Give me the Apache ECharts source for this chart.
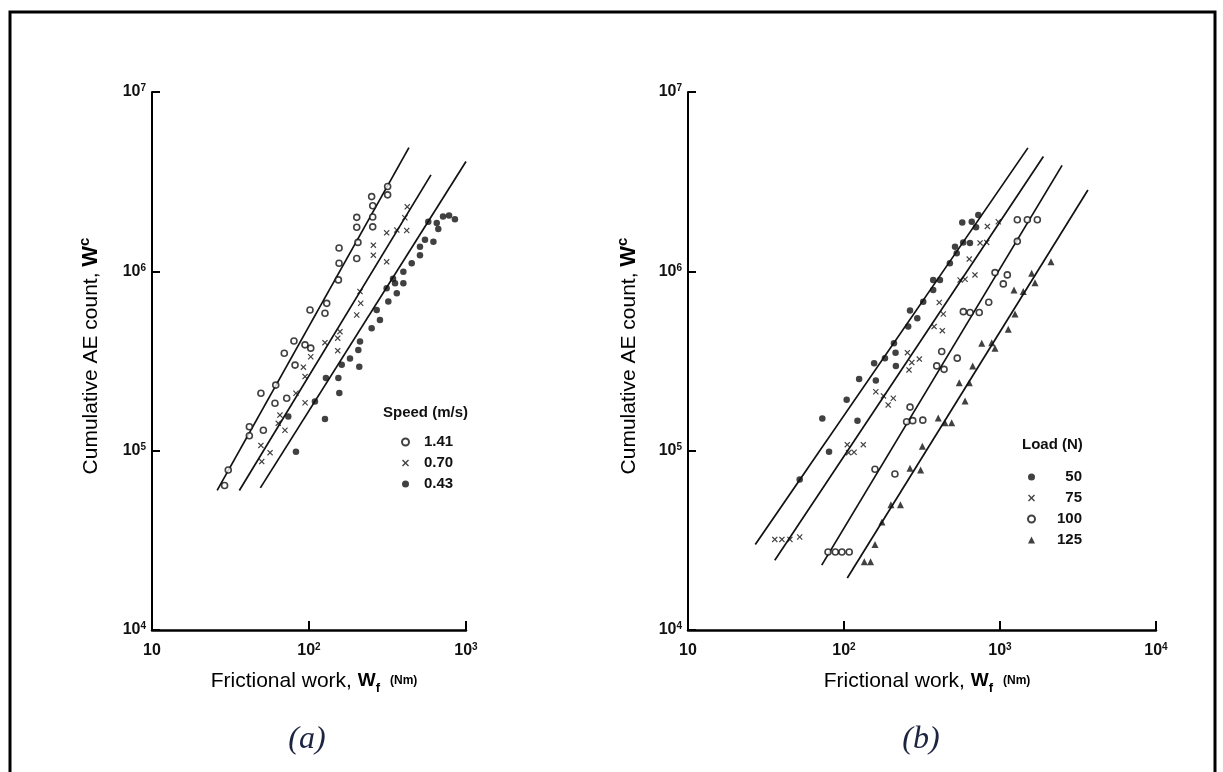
<!DOCTYPE html>
<html>
<head>
<meta charset="utf-8">
<script src="https://cdn.jsdelivr.net/npm/echarts@6/dist/echarts.min.js"></script>
<style>
html,body{margin:0;padding:0;background:#fff}
#chart{width:1223px;height:772px}
</style>
</head>
<body>
<div id="chart"></div>
<script>
// (a) cumulative AE count vs frictional work at three sliding speeds
const speedNames = ['1.41', '0.70', '0.43'];
const speed141 = [[30.6,7.8e4],[29,6.4e4],[41.7,1.36e5],[41.7,1.21e5],[51.2,1.3e5],[49.4,2.09e5],[61.4,2.32e5],[60.7,1.84e5],[72.1,1.96e5],[69.6,3.49e5],[81.5,3.0e5],[80.2,4.09e5],[94.3,3.89e5],[102.6,3.73e5],[101.5,6.09e5],[126.4,5.84e5],[129.7,6.63e5],[153.9,8.96e5],[155.4,1.11e6],[155.4,1.35e6],[201.4,1.18e6],[201.4,1.76e6],[201.4,2.0e6],[254.6,1.77e6],[254.6,2.01e6],[254.6,2.32e6],[250.6,2.61e6],[316.9,2.97e6],[316.9,2.67e6],[205,1.45e6]];
const speed070 = [[50,8.69e4],[56.5,9.75e4],[49.4,1.07e5],[70.3,1.3e5],[63.7,1.42e5],[65.3,1.58e5],[82.6,2.09e5],[94.4,1.85e5],[94.4,2.59e5],[92.1,2.92e5],[102.6,3.34e5],[126.4,4.0e5],[152.4,3.61e5],[152.4,4.24e5],[157.5,4.61e5],[201.4,5.71e5],[213.4,6.64e5],[211.3,7.71e5],[312.4,1.13e6],[257,1.23e6],[257,1.4e6],[362.4,1.7e6],[419.3,1.69e6],[312.4,1.64e6],[408,1.99e6],[422.5,2.29e6]];
const speed043 = [[82.6,9.87e4],[73.8,1.55e5],[126.4,1.5e5],[109.1,1.88e5],[156,2.1e5],[128.2,2.54e5],[153.9,2.54e5],[161.6,3.01e5],[209,2.94e5],[182.4,3.27e5],[206.1,3.64e5],[211.3,4.06e5],[250.6,4.82e5],[283.1,5.36e5],[269.9,6.09e5],[320,6.78e5],[362.4,7.55e5],[312.4,8.05e5],[353.2,8.59e5],[399.1,8.59e5],[343,9.08e5],[399.1,9.96e5],[451,1.11e6],[509,1.23e6],[509,1.37e6],[548,1.5e6],[620,1.46e6],[575,1.89e6],[651,1.86e6],[666,1.72e6],[714,2.02e6],[780,2.05e6],[850,1.95e6]];
// fitted straight lines (end points)
const fit141 = [[26,6.0e4],[433,4.9e6]];
const fit070 = [[36,6.0e4],[598,3.45e6]];
const fit043 = [[49,6.2e4],[1000,4.1e6]];

// (b) cumulative AE count vs frictional work at four normal loads
const loadNames = ['50', '75', '100', '125'];
const load50 = [[573,1.87e6],[659,1.89e6],[726,2.06e6],[702,1.76e6],[581,1.45e6],[642,1.44e6],[515,1.37e6],[528,1.26e6],[477,1.11e6],[373,8.95e5],[412,8.95e5],[373,7.87e5],[322,6.77e5],[265,6.04e5],[295,5.47e5],[258,4.92e5],[209,3.97e5],[214,3.52e5],[183,3.28e5],[156,3.07e5],[215,2.97e5],[125,2.51e5],[160,2.46e5],[104,1.92e5],[122,1.47e5],[72.6,1.51e5],[80.2,9.86e4],[52,6.9e4]];
const load75 = [[408,6.7e5],[433,5.78e5],[378,4.92e5],[427,4.67e5],[255,3.52e5],[272,3.1e5],[304,3.24e5],[261,2.82e5],[160,2.13e5],[179,2.02e5],[207,1.96e5],[192,1.8e5],[105,1.08e5],[133,1.08e5],[107,9.75e4],[116,9.8e4],[830,1.78e6],[745,1.44e6],[822,1.45e6],[635,1.17e6],[691,9.55e5],[555,8.95e5],[597,9.03e5],[975,1.89e6],[36,3.2e4],[40,3.2e4],[45,3.2e4],[52,3.3e4]];
const load100 = [[847,6.73e5],[582,5.96e5],[643,5.89e5],[736,5.89e5],[423,3.57e5],[532,3.28e5],[393,2.97e5],[438,2.84e5],[265,1.75e5],[252,1.45e5],[276,1.47e5],[320,1.48e5],[158,7.87e4],[212,7.41e4],[1291,1.94e6],[1497,1.94e6],[1735,1.94e6],[1291,1.47e6],[929,9.84e5],[1114,9.55e5],[1050,8.51e5],[79,2.72e4],[88,2.72e4],[97,2.72e4],[108,2.72e4]];
const load125 = [[2123,1.13e6],[1596,9.75e5],[1676,8.65e5],[1230,7.88e5],[1410,7.71e5],[1248,5.79e5],[1130,4.76e5],[764,3.97e5],[885,4.0e5],[929,3.72e5],[668,2.97e5],[548,2.39e5],[636,2.39e5],[597,1.89e5],[402,1.52e5],[444,1.43e5],[490,1.43e5],[318,1.06e5],[265,7.98e4],[310,7.8e4],[200,5.0e4],[230,5.0e4],[175,4.0e4],[158,3.0e4],[135,2.4e4],[148,2.4e4]];
const fit50 = [[27,3.0e4],[1510,4.88e6]];
const fit75 = [[36,2.45e4],[1897,4.37e6]];
const fit100 = [[72,2.3e4],[2500,3.9e6]];
const fit125 = [[105,1.95e4],[3660,2.84e6]];

const NARROW = '"Liberation Sans Narrow","Liberation Sans",Arial,sans-serif';
const REG = '"Liberation Sans",Arial,sans-serif';
const CROSS = 'path://M0,1.4L1.4,0L5,3.6L8.6,0L10,1.4L6.4,5L10,8.6L8.6,10L5,6.4L1.4,10L0,8.6L3.6,5Z';
const INK = '#111';

function powLabel(v) {
  const e = Math.round(Math.log10(v));
  return e === 1 ? '{b|10}' : '{b|10}{s|' + e + '}';
}
const tickRich = {
  b: {fontSize: 16, fontWeight: 'bold', fontFamily: NARROW, color: INK, lineHeight: 17},
  s: {fontSize: 10, fontWeight: 'bold', fontFamily: NARROW, color: INK, lineHeight: 10, verticalAlign: 'top'}
};

function xAxis(grid, max) {
  return {
    type: 'log', logBase: 10, gridIndex: grid, min: 10, max: max,
    axisLine: {lineStyle: {color: '#000', width: 2.5}},
    axisTick: {inside: true, length: 9, lineStyle: {color: '#000', width: 2}},
    axisLabel: {formatter: powLabel, rich: tickRich, margin: 12},
    splitLine: {show: false}, minorTick: {show: false}
  };
}
function yAxis(grid) {
  return {
    type: 'log', logBase: 10, gridIndex: grid, min: 1e4, max: 1e7,
    axisLine: {lineStyle: {color: '#000', width: 2}},
    axisTick: {inside: true, length: 8, lineStyle: {color: '#000', width: 2}},
    axisLabel: {formatter: powLabel, rich: tickRich, margin: 6},
    splitLine: {show: false}, minorTick: {show: false}
  };
}
function pts(name, data, grid, symbol, size, open) {
  return {
    name: name, type: 'scatter', xAxisIndex: grid, yAxisIndex: grid,
    data: data, symbol: symbol, symbolSize: size,
    itemStyle: open ? {color: '#fff', borderColor: INK, borderWidth: 1.6} : {color: INK},
    z: 3
  };
}
function fit(name, data, grid) {
  return {
    name: name, type: 'line', xAxisIndex: grid, yAxisIndex: grid, data: data,
    symbol: 'none', lineStyle: {color: INK, width: 1.7}, z: 2
  };
}

const yTitle = '{r|Cumulative AE count, }{w|W}{c|c}';
const xTitle = '{r|Frictional work, }{w|W}{f|f}{n|   (Nm)}';
const titleRich = {
  r: {fontSize: 21, fontFamily: REG, color: INK, lineHeight: 28},
  w: {fontSize: 22, fontWeight: 'bold', fontFamily: REG, color: INK, lineHeight: 28},
  c: {fontSize: 15, fontWeight: 'bold', fontFamily: REG, color: INK, lineHeight: 14, verticalAlign: 'top'},
  f: {fontSize: 13, fontWeight: 'bold', fontFamily: REG, color: INK, lineHeight: 13, verticalAlign: 'bottom'},
  n: {fontSize: 12, fontWeight: 'bold', fontFamily: REG, color: INK, lineHeight: 28}
};
const xTitleRich = Object.assign({}, titleRich, {
  w: {fontSize: 19, fontWeight: 'bold', fontFamily: REG, color: INK, lineHeight: 28}
});
function title(x, y, text, rich, rotation) {
  return {type: 'text', x: x, y: y, rotation: rotation || 0,
    style: {text: text, rich: rich, align: 'center', verticalAlign: 'middle'}};
}
const CAPTION = 'italic 32px "Liberation Serif","Times New Roman",serif';
const LEG = {fontSize: 15, fontWeight: 'bold', fontFamily: REG, color: INK};

const chart = echarts.init(document.getElementById('chart'), null, {renderer: 'canvas'});
chart.setOption({
  animation: false,
  backgroundColor: '#fff',
  grid: [
    {left: 152, top: 92, width: 314, height: 538},
    {left: 688, top: 92, width: 468, height: 538}
  ],
  xAxis: [xAxis(0, 1000), xAxis(1, 10000)],
  yAxis: [yAxis(0), yAxis(1)],
  legend: [
    {
      data: speedNames, orient: 'vertical', left: 396, top: 429,
      itemWidth: 7, itemHeight: 7, itemGap: 5,
      textStyle: Object.assign({lineHeight: 16, padding: [0, 0, 0, 10]}, LEG),
      selectedMode: false
    },
    {
      data: loadNames, orient: 'vertical', left: 1022, top: 464,
      itemWidth: 7, itemHeight: 7, itemGap: 5,
      formatter: n => '{n|' + n + '}',
      textStyle: Object.assign({lineHeight: 16, rich: {n: Object.assign({width: 42, align: 'right'}, LEG)}}, LEG),
      selectedMode: false
    }
  ],
  series: [
    pts('1.41', speed141, 0, 'circle', 6, true),
    pts('0.70', speed070, 0, CROSS, 6, false),
    pts('0.43', speed043, 0, 'circle', 6.5, false),
    fit('fit 1.41', fit141, 0), fit('fit 0.70', fit070, 0), fit('fit 0.43', fit043, 0),
    pts('50', load50, 1, 'circle', 6.5, false),
    pts('75', load75, 1, CROSS, 6, false),
    pts('100', load100, 1, 'circle', 6, true),
    pts('125', load125, 1, 'triangle', 7, false),
    fit('fit 50', fit50, 1), fit('fit 75', fit75, 1), fit('fit 100', fit100, 1), fit('fit 125', fit125, 1)
  ],
  graphic: [
    {type: 'rect', shape: {x: 10, y: 12, width: 1205, height: 800},
      style: {fill: null, stroke: '#000', lineWidth: 3}, silent: true},
    title(91, 356, yTitle, titleRich, Math.PI / 2),
    title(629, 356, yTitle, titleRich, Math.PI / 2),
    title(314, 681, xTitle, xTitleRich),
    title(927, 681, xTitle, xTitleRich),
    {type: 'text', x: 383, y: 413, style: {text: 'Speed (m/s)', font: 'bold 15px "Liberation Sans",Arial,sans-serif', fill: INK, verticalAlign: 'middle'}},
    {type: 'text', x: 1022, y: 445, style: {text: 'Load (N)', font: 'bold 15px "Liberation Sans",Arial,sans-serif', fill: INK, verticalAlign: 'middle'}},
    {type: 'text', x: 307, y: 740, style: {text: '(a)', font: CAPTION, fill: '#1c2440', align: 'center', verticalAlign: 'middle'}},
    {type: 'text', x: 921, y: 740, style: {text: '(b)', font: CAPTION, fill: '#1c2440', align: 'center', verticalAlign: 'middle'}}
  ]
});
</script>
</body>
</html>
